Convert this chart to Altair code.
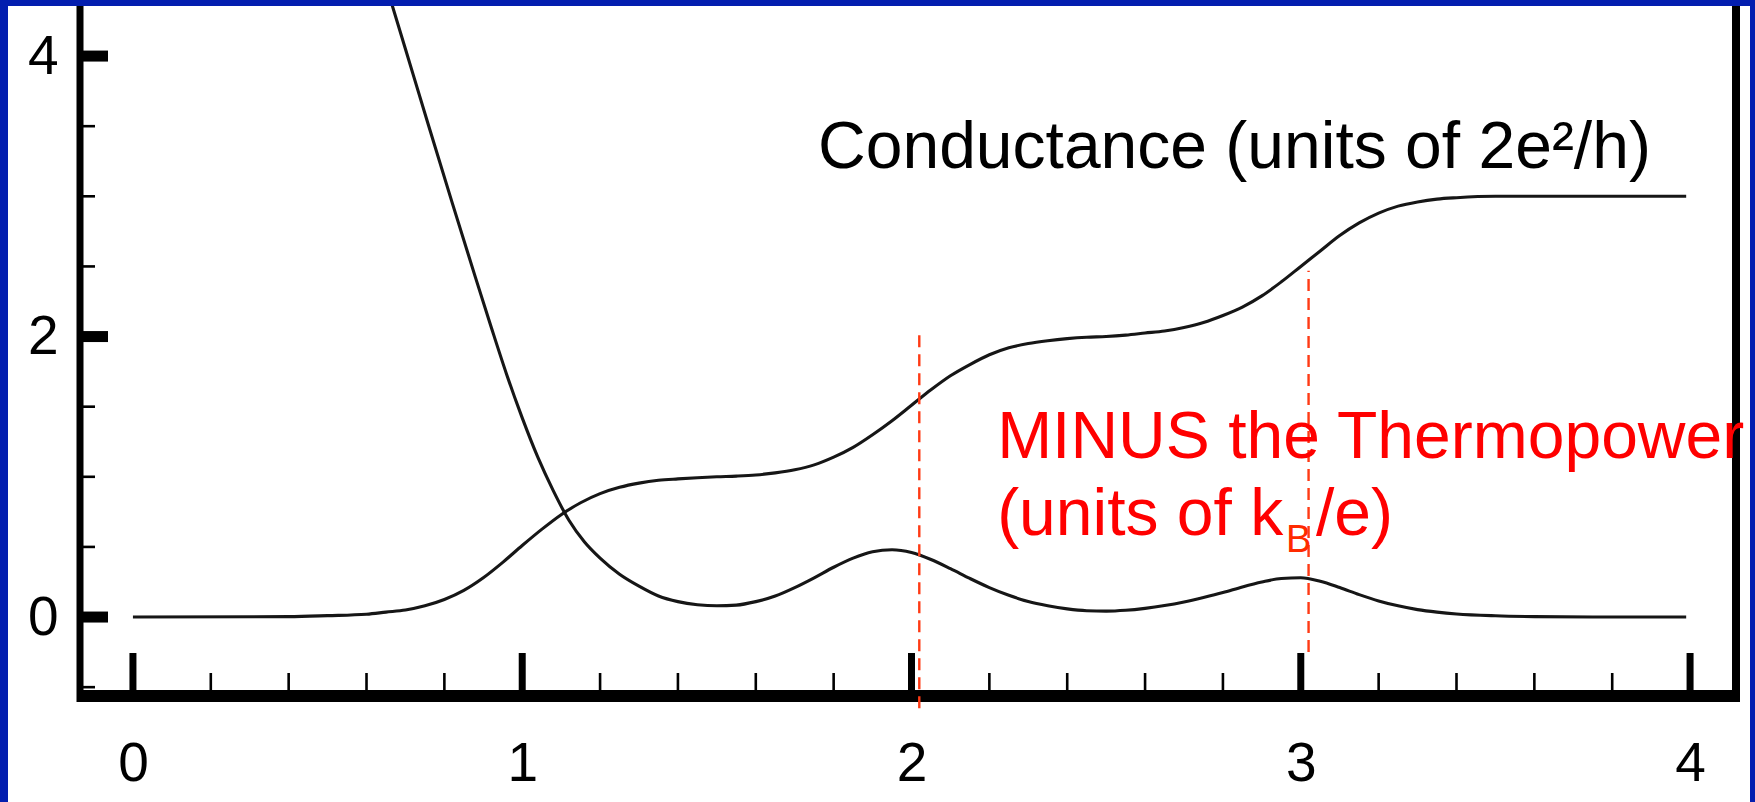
import altair as alt
import pandas as pd

# Conductance G in units of 2e^2/h versus gate energy (steps at 1, 2, 3)
g_x = [0.00, 0.40, 0.50, 0.60, 0.65, 0.70, 0.75, 0.80, 0.85, 0.90, 0.95, 1.00,
       1.05, 1.10, 1.15, 1.20, 1.25, 1.30, 1.35, 1.40, 1.45, 1.50, 1.55, 1.60,
       1.65, 1.70, 1.75, 1.80, 1.85, 1.90, 1.95, 2.00, 2.05, 2.10, 2.15, 2.20,
       2.25, 2.30, 2.35, 2.40, 2.45, 2.50, 2.55, 2.60, 2.65, 2.70, 2.75, 2.80,
       2.85, 2.90, 2.95, 3.00, 3.05, 3.10, 3.15, 3.20, 3.25, 3.30, 3.35, 3.40,
       3.50, 3.99]
g_y = [0.00, 0.003, 0.01, 0.02, 0.035, 0.05, 0.08, 0.125, 0.19, 0.28, 0.39, 0.51,
       0.625, 0.73, 0.815, 0.88, 0.925, 0.955, 0.975, 0.985, 0.993, 1.00, 1.005, 1.013,
       1.028, 1.05, 1.085, 1.14, 1.21, 1.30, 1.40, 1.51, 1.62, 1.72, 1.80, 1.87,
       1.92, 1.95, 1.97, 1.985, 1.995, 2.00, 2.01, 2.025, 2.04, 2.065, 2.10, 2.15,
       2.21, 2.29, 2.39, 2.50, 2.61, 2.72, 2.81, 2.88, 2.93, 2.96, 2.98, 2.99,
       3.00, 3.00]

# Minus the thermopower in units of k_B/e
s_x = [0.64, 0.70, 0.76, 0.82, 0.88, 0.92, 0.96, 1.00, 1.04, 1.08, 1.12, 1.16,
       1.20, 1.25, 1.30, 1.35, 1.40, 1.45, 1.50, 1.55, 1.60, 1.65, 1.70, 1.75,
       1.80, 1.85, 1.90, 1.95, 2.00, 2.05, 2.10, 2.15, 2.20, 2.25, 2.30, 2.35,
       2.40, 2.45, 2.50, 2.55, 2.60, 2.65, 2.70, 2.75, 2.80, 2.85, 2.90, 2.95,
       3.00, 3.05, 3.10, 3.15, 3.20, 3.25, 3.30, 3.35, 3.40, 3.50, 3.60, 3.75,
       3.99]
s_y = [4.60, 4.05, 3.50, 2.955, 2.42, 2.07, 1.73, 1.42, 1.14, 0.90, 0.69, 0.535,
       0.42, 0.305, 0.22, 0.15, 0.11, 0.088, 0.08, 0.085, 0.11, 0.15, 0.21, 0.28,
       0.355, 0.42, 0.465, 0.48, 0.46, 0.41, 0.345, 0.275, 0.21, 0.155, 0.11, 0.08,
       0.058, 0.045, 0.042, 0.048, 0.062, 0.082, 0.108, 0.14, 0.175, 0.215, 0.25, 0.275,
       0.28, 0.255, 0.21, 0.16, 0.115, 0.08, 0.053, 0.035, 0.022, 0.009, 0.003, 0.0,
       0.0]

# Axis ticks
x_major = [0, 1, 2, 3, 4]
x_minor = [0.2, 0.4, 0.6, 0.8, 1.2, 1.4, 1.6, 1.8, 2.2, 2.4, 2.6, 2.8,
           3.2, 3.4, 3.6, 3.8]
y_major = [0, 2, 4]
y_minor = [-0.5, 0.5, 1.0, 1.5, 2.5, 3.0, 3.5]

# Dashed markers at the step midpoints
marker_x = [2.02, 3.02]
marker_lo = [-0.65, -0.25]
marker_hi = [2.02, 2.47]

# Annotations
note_text = ["Conductance (units of 2e²/h)", "MINUS the Thermopower", "(units of k", "B", "/e)"]
note_x = [1.76, 2.22, 2.22, 2.962, 3.039]
note_y = [3.201, 1.134, 0.585, 0.463, 0.585]

W, H = 1656, 690
SANS = "Liberation Sans, Arial, Helvetica"

xscale = alt.Scale(domain=[-0.136, 4.118], nice=False, zero=False)
yscale = alt.Scale(domain=[-0.563, 4.357], nice=False, zero=False)
xaxis = alt.Axis(values=x_major, domain=False, ticks=False, tickSize=0, grid=False,
                 title="", labelFont=SANS, labelFontSize=55, labelColor="black",
                 labelPadding=84, labelBaseline="alphabetic", labelFlush=False,
                 labelOverlap=False, format="d", zindex=2)
yaxis = alt.Axis(values=y_major, domain=False, ticks=False, tickSize=0, grid=False,
                 title="", labelFont=SANS, labelFontSize=55, labelColor="black",
                 labelPadding=22, labelBaseline="middle", labelFlush=False,
                 labelOverlap=False, format="d", zindex=2)


def X(field="x"):
    return alt.X(f"{field}:Q", scale=xscale, axis=xaxis)


def Y(field="y"):
    return alt.Y(f"{field}:Q", scale=yscale, axis=yaxis)


one = pd.DataFrame({"k": [0]})

panel = alt.Chart(one).mark_rect(color="white").encode(
    x=alt.value(-72), x2=alt.value(1670), y=alt.value(0), y2=alt.value(796)
)

frame_left = alt.Chart(one).mark_rule(color="black", strokeWidth=7).encode(
    x=alt.value(0), y=alt.value(0), y2=alt.value(H + 6)
)
frame_right = alt.Chart(one).mark_rule(color="black", strokeWidth=8).encode(
    x=alt.value(W), y=alt.value(0), y2=alt.value(H + 6)
)
frame_bottom = alt.Chart(one).mark_rule(color="black", strokeWidth=12).encode(
    x=alt.value(-3), x2=alt.value(W + 4), y=alt.value(H)
)

xt_major = alt.Chart(pd.DataFrame({"x": x_major})).mark_rule(color="black", strokeWidth=7).encode(
    x=X(), y=alt.value(H - 43), y2=alt.value(H)
)
xt_minor = alt.Chart(pd.DataFrame({"x": x_minor})).mark_rule(color="black", strokeWidth=2.6).encode(
    x=X(), y=alt.value(H - 23), y2=alt.value(H)
)
yt_major = alt.Chart(pd.DataFrame({"y": y_major})).mark_rule(color="black", strokeWidth=11).encode(
    y=Y(), x=alt.value(0), x2=alt.value(28)
)
yt_minor = alt.Chart(pd.DataFrame({"y": y_minor})).mark_rule(color="black", strokeWidth=2.6).encode(
    y=Y(), x=alt.value(0), x2=alt.value(15)
)

g_line = alt.Chart(pd.DataFrame({"x": g_x, "y": g_y})).mark_line(
    color="#161616", strokeWidth=3.1, interpolate="monotone"
).encode(x=X(), y=Y())

s_line = alt.Chart(pd.DataFrame({"x": s_x, "y": s_y})).mark_line(
    color="#161616", strokeWidth=3.1, interpolate="monotone", clip=True
).encode(x=X(), y=Y())

markers = alt.Chart(pd.DataFrame({"x": marker_x, "y": marker_lo, "y2": marker_hi})).mark_rule(
    color="#ff3a14", strokeWidth=2.4, strokeDash=[12, 7]
).encode(x=X(), y=Y(), y2="y2:Q")

notes = pd.DataFrame({"x": note_x, "y": note_y, "t": note_text})


def note(i, size, color):
    return alt.Chart(notes.iloc[[i]]).mark_text(
        align="left", baseline="alphabetic", font=SANS, fontSize=size, color=color
    ).encode(x=X(), y=Y(), text="t:N")


texts = [
    note(0, 66, "black"),
    note(1, 66, "#ff0000"),
    note(2, 66, "#ff0000"),
    note(3, 38, "#ff2a00"),
    note(4, 66, "#ff0000"),
]

chart = alt.layer(
    panel, g_line, s_line, xt_major, xt_minor, yt_major, yt_minor,
    frame_left, frame_right, frame_bottom, markers, *texts
).properties(
    width=W, height=H,
    autosize=alt.AutoSizeParams(type="none"),
    padding={"left": 80, "top": 6, "right": 19, "bottom": 106},
    background="#031eaf",
).configure_view(strokeWidth=0)

chart.save("out.html", embed_options={"renderer": "svg", "actions": False})
